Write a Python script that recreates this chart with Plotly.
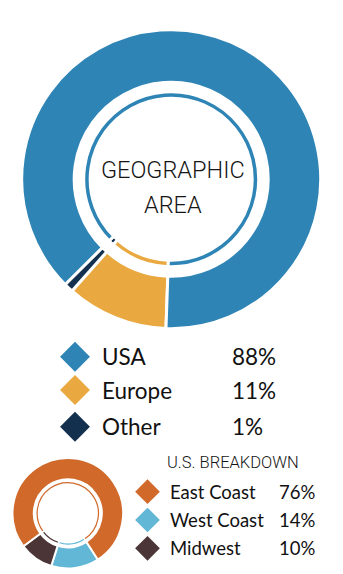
import plotly.graph_objects as go

W, H = 343, 574

# ---- data ----
geo_labels = ["USA", "Europe", "Other"]
geo_values = [88, 11, 1]
geo_pct = ["88%", "11%", "1%"]
geo_colors = ["#2E84B5", "#E9A940", "#13304F"]

us_labels = ["East Coast", "West Coast", "Midwest"]
us_values = [76, 14, 10]
us_pct = ["76%", "14%", "10%"]
us_colors = ["#D0692A", "#62B7D6", "#4B3536"]

center_title = ["GEOGRAPHIC", "AREA"]
us_title = "U.S. BREAKDOWN"


def dom(cx, cy, r):
    return dict(x=[(cx - r) / W, (cx + r) / W],
                y=[(H - cy - r) / H, (H - cy + r) / H])


def ring(labels, values, colors, cx, cy, r, hole, rot, lw):
    return go.Pie(labels=labels, values=values, sort=False,
                  direction="clockwise", rotation=rot, hole=hole,
                  marker=dict(colors=colors, line=dict(color="white", width=lw)),
                  textinfo="none", hoverinfo="label+percent",
                  showlegend=False, automargin=False,
                  domain=dom(cx, cy, r))


fig = go.Figure()

# main donut: clockwise from bottom -> Europe, Other, USA
order = [1, 2, 0]
gl = [geo_labels[i] for i in order]
gv = [geo_values[i] for i in order]
gc = [geo_colors[i] for i in order]
fig.add_trace(ring(gl, gv, gc, 171.2, 179.2, 149.5, 97 / 149.5, 182, 3))
fig.add_trace(ring(gl, gv, gc, 171.2, 179.2, 87.5, 81 / 87.5, 182, 3))

# small donut: clockwise from ~147deg -> West Coast, Midwest, East Coast
order2 = [1, 2, 0]
ul = [us_labels[i] for i in order2]
uv = [us_values[i] for i in order2]
uc = [us_colors[i] for i in order2]
fig.add_trace(ring(ul, uv, uc, 67.8, 513.3, 55.3, 34 / 55.3, 147, 2))
fig.add_trace(ring(ul, uv, uc, 67.8, 513.3, 32, 29.3 / 32, 147, 1.5))

# legend diamonds on an overlay pixel axis
geo_y = [356.7, 390, 426.7]
us_y = [491.7, 520, 548.3]
fig.add_trace(go.Scatter(x=[75] * 3, y=geo_y, mode="markers",
                         marker=dict(symbol="diamond", size=23, color=geo_colors,
                                     line=dict(width=0)),
                         hoverinfo="skip", showlegend=False))
fig.add_trace(go.Scatter(x=[147.5] * 3, y=us_y, mode="markers",
                         marker=dict(symbol="diamond", size=19, color=us_colors,
                                     line=dict(width=0)),
                         hoverinfo="skip", showlegend=False))

ann = []
lato = "Lato, 'Open Sans', sans-serif"
narrow = "Roboto, 'Liberation Sans Narrow', sans-serif"
for lab, pct, y in zip(geo_labels, geo_pct, geo_y):
    ann.append(dict(x=100, y=y, text=lab, xanchor="left", yanchor="middle",
                    font=dict(family=lato, size=22.5, color="#111")))
    ann.append(dict(x=230, y=y, text=pct, xanchor="left", yanchor="middle",
                    font=dict(family=lato, size=22.5, color="#111")))
for lab, pct, y in zip(us_labels, us_pct, us_y):
    ann.append(dict(x=167.5, y=y, text=lab, xanchor="left", yanchor="middle",
                    font=dict(family=lato, size=18.5, color="#111")))
    ann.append(dict(x=277, y=y, text=pct, xanchor="left", yanchor="middle",
                    font=dict(family=lato, size=18.5, color="#111")))
for txt, y in zip(center_title, [170, 205]):
    ann.append(dict(x=173, y=y, text=txt, xanchor="center", yanchor="middle",
                    font=dict(family=narrow, size=23.5, color="#151515", weight=300)))
ann.append(dict(x=233, y=462, text=us_title, xanchor="center", yanchor="middle",
                font=dict(family=narrow, size=16.5, color="#151515", weight=300)))
for a in ann:
    a.update(xref="x", yref="y", showarrow=False)

fig.update_layout(
    width=W, height=H, margin=dict(l=0, r=0, t=0, b=0),
    paper_bgcolor="white", plot_bgcolor="rgba(0,0,0,0)",
    xaxis=dict(range=[0, W], visible=False, fixedrange=True),
    yaxis=dict(range=[H, 0], visible=False, fixedrange=True),
    annotations=ann,
)

fig.write_html("out.html", config={"displayModeBar": False})
